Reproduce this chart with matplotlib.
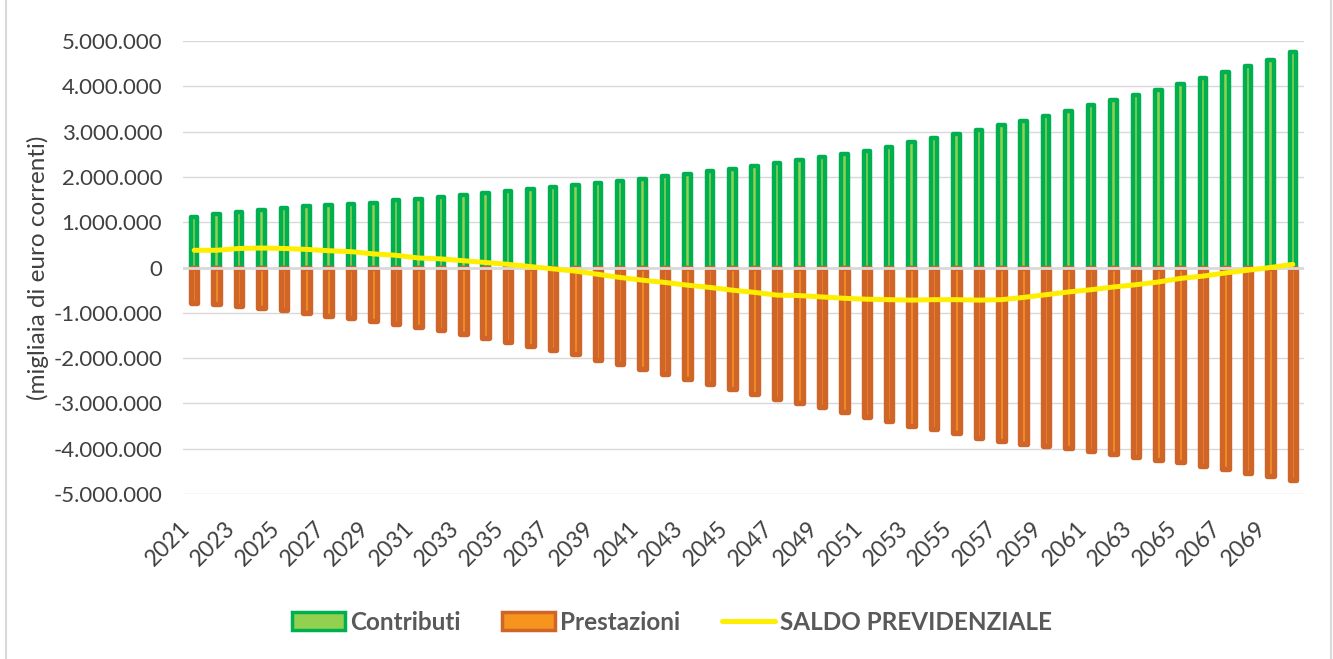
import matplotlib
matplotlib.use("Agg")
import matplotlib.pyplot as plt
import numpy as np
from matplotlib.lines import Line2D
from matplotlib.patches import Patch

years = list(range(2021, 2071))

contributi = [1.12, 1.18, 1.23, 1.28, 1.31, 1.35, 1.38, 1.41, 1.43, 1.48,
              1.51, 1.56, 1.59, 1.65, 1.69, 1.74, 1.78,
              1.82, 1.86, 1.92, 1.96, 2.01, 2.06, 2.12, 2.18, 2.23, 2.30,
              2.37, 2.44, 2.51, 2.58, 2.67, 2.76, 2.85, 2.94,
              3.04, 3.14, 3.23, 3.35, 3.46, 3.58, 3.69, 3.80, 3.92, 4.05,
              4.18, 4.32, 4.45, 4.59, 4.75]
contributi = [v * 1_000_000 for v in contributi]

prestazioni = [-0.78, -0.81, -0.84, -0.89, -0.94, -1.00, -1.06, -1.11, -1.17, -1.24,
               -1.32, -1.39, -1.46, -1.55, -1.64, -1.73, -1.83,
               -1.92, -2.04, -2.14, -2.25, -2.36, -2.47, -2.57, -2.69, -2.80,
               -2.91, -2.99, -3.09, -3.19, -3.30, -3.39, -3.49, -3.57, -3.65,
               -3.77, -3.84, -3.89, -3.95, -3.99, -4.06, -4.12, -4.19, -4.26,
               -4.30, -4.39, -4.45, -4.53, -4.61, -4.68]
prestazioni = [v * 1_000_000 for v in prestazioni]

saldo = [0.38, 0.38, 0.42, 0.43, 0.42, 0.40, 0.37, 0.35, 0.30, 0.27,
         0.21, 0.19, 0.15, 0.11, 0.07, 0.02, -0.03,
         -0.08, -0.15, -0.22, -0.28, -0.33, -0.39, -0.44, -0.50, -0.55,
         -0.61, -0.62, -0.65, -0.68, -0.70, -0.71, -0.72, -0.71, -0.71,
         -0.72, -0.71, -0.66, -0.60, -0.54, -0.49, -0.43, -0.38, -0.32,
         -0.24, -0.19, -0.12, -0.06, 0.00, 0.07]
saldo = [v * 1_000_000 for v in saldo]

yticks = [5e6, 4e6, 3e6, 2e6, 1e6, 0, -1e6, -2e6, -3e6, -4e6, -5e6]
ytick_labels = ["5.000.000", "4.000.000", "3.000.000", "2.000.000", "1.000.000", "0",
                "-1.000.000", "-2.000.000", "-3.000.000", "-4.000.000", "-5.000.000"]

FONT = "Lato"
TXT = "#404040"
GREEN_EDGE = "#00B050"
GREEN_FILL = "#92D050"
OR_EDGE = "#D0652A"
OR_FILL = "#F7941D"
YELLOW = "#FFEE00"
GRID = "#D9D9D9"

fig = plt.figure(figsize=(13.33, 6.59), dpi=100)
ax = fig.add_axes([183/1333, 1 - 494/659, (1304 - 183)/1333, (494 - 41)/659])

x = np.arange(len(years))
w = 0.29
ax.bar(x, contributi, width=w, color=GREEN_FILL, edgecolor=GREEN_EDGE,
       linewidth=3.2, joinstyle="round", zorder=2)
ax.bar(x, prestazioni, width=w, color=OR_FILL, edgecolor=OR_EDGE,
       linewidth=3.9, joinstyle="round", zorder=2)
ax.axhline(0, color=GRID, linewidth=2.0, zorder=3)
ax.plot(x, saldo, color=YELLOW, linewidth=3.6, solid_capstyle="round",
        solid_joinstyle="round", zorder=4)

ax.set_xlim(-0.5, len(years) - 0.5)
ax.set_ylim(-5e6, 5e6)
ax.set_yticks(yticks)
ax.set_yticklabels(ytick_labels, fontsize=16, color=TXT, family=FONT)
ax.set_xticks(x[::2])
ax.set_xticklabels([str(y) for y in years[::2]], rotation=45, ha="right",
                   rotation_mode="default", fontsize=16.5, color=TXT, family=FONT)
ax.tick_params(axis="both", length=0)
ax.tick_params(axis="y", pad=15)
ax.tick_params(axis="x", pad=17)
ax.grid(axis="y", color=GRID, linewidth=1.0, zorder=0)
ax.set_axisbelow(True)
for s in ax.spines.values():
    s.set_visible(False)

fig.text(38/1333, 1 - 268/659, "(migliaia di euro correnti)", rotation=90,
         ha="center", va="center", fontsize=17.5, color=TXT, family=FONT)

handles = [
    Patch(facecolor=GREEN_FILL, edgecolor=GREEN_EDGE, linewidth=2.5),
    Patch(facecolor=OR_FILL, edgecolor=OR_EDGE, linewidth=2.5),
    Line2D([0], [0], color=YELLOW, linewidth=3.6, solid_capstyle="round"),
]
labels = ["Contributi", "Prestazioni", "SALDO PREVIDENZIALE"]
leg = fig.legend(handles, labels, loc="center", bbox_to_anchor=(672/1333, 1 - 622/659),
                 ncol=3, frameon=False, handlelength=2.2, handleheight=0.75,
                 handletextpad=0.2, columnspacing=1.7,
                 prop={"family": FONT, "weight": "bold", "size": 17.5})
for t in leg.get_texts():
    t.set_color("#595959")

# chart frame (left and right borders)
fig.add_artist(Line2D([6/1333, 6/1333], [0, 1], color=GRID, linewidth=1.5))
fig.add_artist(Line2D([1331/1333, 1331/1333], [0, 1], color=GRID, linewidth=1.5))

fig.savefig("out.png", dpi=100, facecolor="white")
